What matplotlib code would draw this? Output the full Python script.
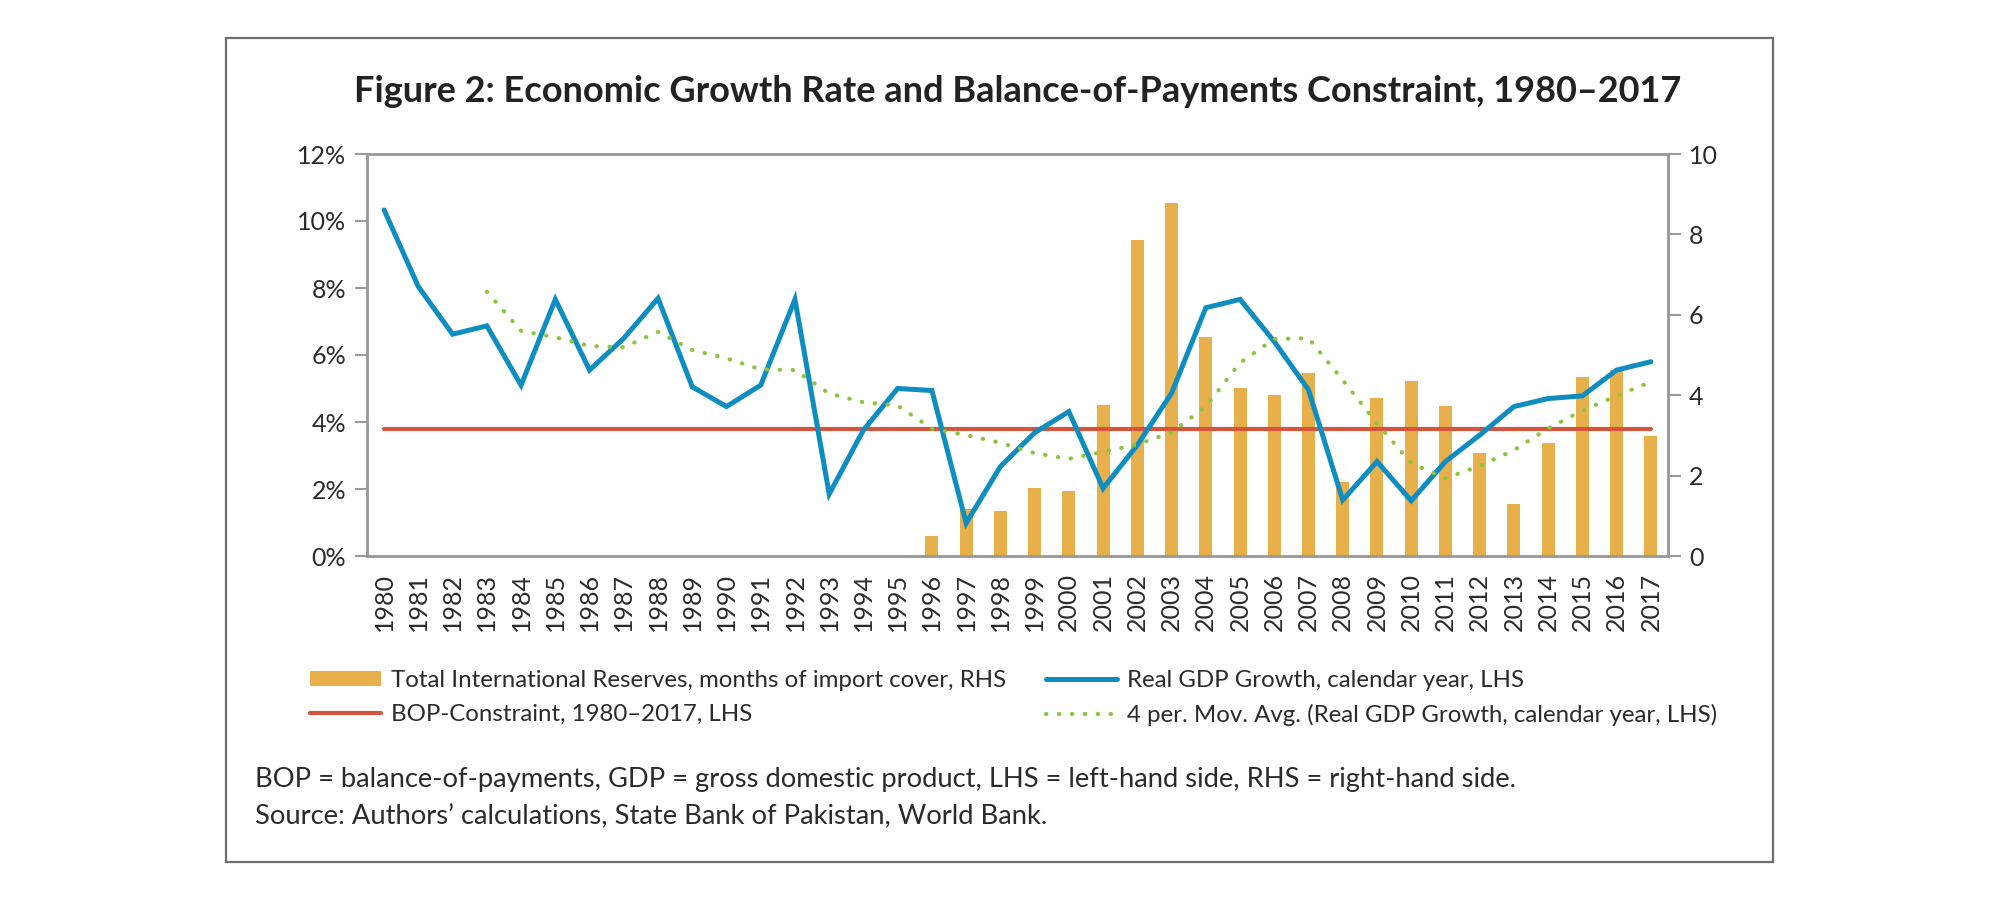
import matplotlib
matplotlib.use("Agg")
import matplotlib.pyplot as plt
from matplotlib.patches import Rectangle
from matplotlib.ticker import FuncFormatter, MultipleLocator
import numpy as np

years = list(range(1980, 2018))
gdp_growth = [10.33, 8.04, 6.62, 6.87, 5.10, 7.66, 5.55, 6.50, 7.69, 5.05,
              4.46, 5.10, 7.66, 1.85, 3.76, 5.00, 4.94, 0.98, 2.67, 3.68,
              4.31, 2.02, 3.31, 4.86, 7.41, 7.66, 6.40, 4.96, 1.67, 2.82,
              1.65, 2.82, 3.61, 4.46, 4.70, 4.78, 5.55, 5.80]
mov_avg = [np.nan, np.nan, np.nan, 7.89, 6.72, 6.53, 6.27, 6.23, 6.69, 6.15,
           5.90, 5.57, 5.55, 4.85, 4.59, 4.49, 3.80, 3.61, 3.38, 3.07,
           2.90, 3.11, 3.33, 3.69, 4.46, 5.77, 6.48, 6.50, 5.25, 3.96,
           2.77, 2.32, 2.69, 3.16, 3.81, 4.34, 4.78, 5.20]
reserves = [0, 0, 0, 0, 0, 0, 0, 0, 0, 0,
            0, 0, 0, 0, 0, 0, 0.50, 1.16, 1.13, 1.68,
            1.62, 3.76, 7.86, 8.77, 5.44, 4.18, 4.00, 4.54, 1.85, 3.92,
            4.36, 3.74, 2.55, 1.29, 2.80, 4.46, 4.63, 2.99]
bop_constraint = [3.80] * len(years)

title = "Figure 2: Economic Growth Rate and Balance-of-Payments Constraint, 1980\u20132017"
lbl_res = "Total International Reserves, months of import cover, RHS"
lbl_gdp = "Real GDP Growth, calendar year, LHS"
lbl_bop = "BOP-Constraint, 1980\u20132017, LHS"
lbl_ma = "4 per. Mov. Avg. (Real GDP Growth, calendar year, LHS)"
note1 = "BOP = balance-of-payments, GDP = gross domestic product, LHS = left-hand side, RHS = right-hand side."
note2 = "Source: Authors\u2019 calculations, State Bank of Pakistan, World Bank."

plt.rcParams['font.family'] = ['Lato', 'DejaVu Sans']
txt_col = '#2B2B2B'
c_bar = '#E8B04A'
c_gdp = '#0E8DC0'
c_bop = '#D2553C'
c_ma = '#8CC43F'
c_ax = '#9A9A9A'

fig = plt.figure(figsize=(20, 9.24), dpi=100)
W, H = 2000, 924
def fx(px): return px / W
def fy(py): return 1 - py / H

ax = fig.add_axes([fx(367), fy(556), fx(1668) - fx(367), fy(154) - fy(556)])
ax2 = ax.twinx()
ax.set_zorder(ax2.get_zorder() + 1)
ax.patch.set_visible(False)

x = np.arange(len(years))
ax2.bar(x, reserves, width=0.38, color=c_bar, label=lbl_res)
ax.plot(x, bop_constraint, color=c_bop, lw=3.0, solid_capstyle='round', label=lbl_bop)
ax.plot(x, gdp_growth, color=c_gdp, lw=3.6, solid_capstyle='round', solid_joinstyle='miter', label=lbl_gdp)
ax.plot(x, mov_avg, color=c_ma, lw=3.0, linestyle=(0, (0.1, 3.0)), dash_capstyle='round', label=lbl_ma)

ax.set_xlim(-0.5, len(years) - 0.5)
ax.set_ylim(0, 12)
ax2.set_ylim(0, 10)
ax.yaxis.set_major_locator(MultipleLocator(2))
ax.yaxis.set_major_formatter(FuncFormatter(lambda v, p: f"{v:.0f}%"))
ax2.yaxis.set_major_locator(MultipleLocator(2))
ax.set_xticks(x)
ax.set_xticklabels([str(y) for y in years], rotation=90, fontsize=18, color=txt_col)
ax.tick_params(axis='x', length=0, pad=12)
ax.tick_params(axis='y', length=9, width=1.5, color=c_ax, labelsize=18, labelcolor=txt_col, pad=6)
ax2.tick_params(axis='y', length=9, width=1.5, color=c_ax, labelsize=18, labelcolor=txt_col, pad=6)
for a in (ax, ax2):
    for s in a.spines.values():
        s.set_color(c_ax)
        s.set_linewidth(1.8)

fig.text(fx(1018), fy(92), title, ha='center', va='center', fontsize=26, fontweight='bold', color='#222222')

h1, l1 = ax2.get_legend_handles_labels()
h2, l2 = ax.get_legend_handles_labels()
handles = [h1[0], h2[0], h2[1], h2[2]]
labels = [l1[0], l2[0], l2[1], l2[2]]
fig.legend(handles, labels, ncol=2, loc='upper left', bbox_to_anchor=(fx(291), fy(651)),
           frameon=False, fontsize=17.3, handlelength=2.95, handleheight=0.55, handletextpad=0.42,
           columnspacing=1.66, labelspacing=0.52, borderpad=0.3, labelcolor=txt_col)

fig.text(fx(255), fy(779), note1, ha='left', va='center', fontsize=19.7, color=txt_col)
fig.text(fx(255), fy(817), note2, ha='left', va='center', fontsize=19.7, color=txt_col)

fig.patches.append(Rectangle((fx(226), fy(862)), fx(1773) - fx(226), fy(38) - fy(862),
                             transform=fig.transFigure, fill=False, edgecolor='#6E6E6E', lw=1.6))

fig.savefig("out.png", dpi=100, facecolor='white')
